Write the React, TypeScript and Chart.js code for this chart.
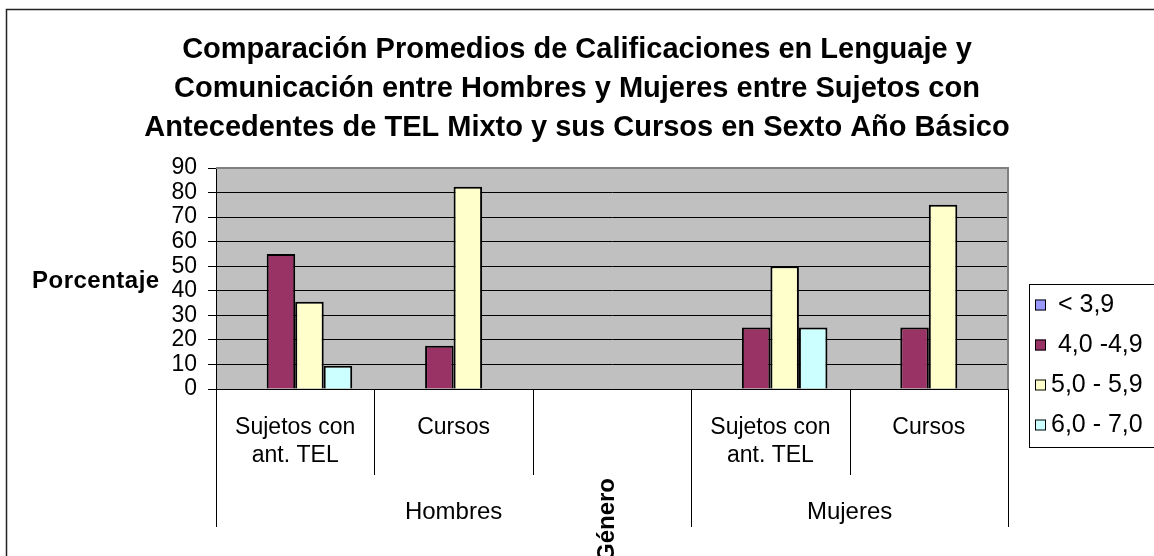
import { useEffect, useRef } from 'react';
import { Chart, registerables } from 'chart.js';

Chart.register(...registerables);

const FONT = "'Liberation Sans', Arial, sans-serif";

const titleLines = [
  'Comparación Promedios de Calificaciones en Lenguaje y',
  'Comunicación entre Hombres y Mujeres entre Sujetos con',
  'Antecedentes de TEL Mixto y sus Cursos en Sexto Año Básico',
];
const yTitle = 'Porcentaje';
const xTitle = 'Género';
const categories = [['Sujetos con', 'ant. TEL'], ['Cursos'], [''], ['Sujetos con', 'ant. TEL'], ['Cursos']];
const groupLabels = ['Hombres', 'Mujeres'];
const groupStarts = [0, 3];
const groupEnds = [2, 4];
const seriesNames = [' < 3,9', ' 4,0 -4,9', '5,0 - 5,9', '6,0 - 7,0'];
const seriesColors = ['#9999FF', '#993366', '#FFFFCC', '#CCFFFF'];
const below39 = [0, 0, null, 0, 0];
const from40 = [55, 17.6, null, 25, 25];
const from50 = [35.5, 82.4, null, 50, 75];
const from60 = [9.5, 0, null, 25, 0];
const yTicks = [0, 10, 20, 30, 40, 50, 60, 70, 80, 90];

const decor = {
  id: 'decor',
  beforeDraw(chart: any) {
    const { ctx, chartArea: a } = chart;
    ctx.save();
    ctx.fillStyle = '#fff';
    ctx.fillRect(0, 0, chart.width, chart.height);
    ctx.fillStyle = '#C0C0C0';
    ctx.fillRect(a.left, a.top, a.right - a.left, a.bottom - a.top);
    ctx.restore();
  },
  beforeDatasetsDraw(chart: any) {
    const { ctx, chartArea: a } = chart;
    ctx.save();
    ctx.strokeStyle = '#808080';
    ctx.lineWidth = 2;
    ctx.beginPath();
    ctx.moveTo(a.left, a.top);
    ctx.lineTo(a.right, a.top);
    ctx.lineTo(a.right, a.bottom);
    ctx.stroke();
    ctx.restore();
  },
  afterDraw(chart: any) {
    const { ctx, chartArea: a } = chart;
    const xs = chart.scales.x;
    ctx.save();
    // outer frame
    ctx.strokeStyle = '#222';
    ctx.lineWidth = 1.5;
    ctx.beginPath();
    ctx.moveTo(6.5, chart.height + 2);
    ctx.lineTo(6.5, 9.5);
    ctx.lineTo(chart.width + 2, 9.5);
    ctx.stroke();

    // title
    ctx.fillStyle = '#000';
    ctx.textAlign = 'center';
    ctx.textBaseline = 'middle';
    ctx.font = `bold 29px ${FONT}`;
    titleLines.forEach((t, i) => ctx.fillText(t, 577, 50 + i * 39));

    // y title
    ctx.textAlign = 'left';
    ctx.textBaseline = 'alphabetic';
    ctx.font = `bold 24px ${FONT}`;
    (ctx as any).letterSpacing = '0.5px';
    ctx.fillText(yTitle, 32, 288);
    (ctx as any).letterSpacing = '0px';

    // category dividers
    const half = (xs.getPixelForValue(1) - xs.getPixelForValue(0)) / 2;
    const edge = (i: number) => xs.getPixelForValue(i) - half;
    ctx.strokeStyle = '#000';
    ctx.lineWidth = 1;
    for (let i = 0; i <= categories.length; i++) {
      const isGroup = groupStarts.includes(i) || i === categories.length;
      const x = Math.round(edge(i)) + 0.5;
      ctx.beginPath();
      ctx.moveTo(x, a.bottom);
      ctx.lineTo(x, isGroup ? 527 : 475);
      ctx.stroke();
    }
    // group labels
    ctx.font = `24px ${FONT}`;
    ctx.textAlign = 'center';
    ctx.textBaseline = 'middle';
    groupLabels.forEach((g, k) => {
      const cx = (edge(groupStarts[k]) + edge(groupEnds[k] + 1)) / 2;
      ctx.fillText(g, cx, 512);
    });
    // rotated axis title
    ctx.save();
    ctx.translate(614, 520);
    ctx.rotate(-Math.PI / 2);
    ctx.font = `bold 24px ${FONT}`;
    ctx.textAlign = 'center';
    ctx.textBaseline = 'alphabetic';
    ctx.fillText(xTitle, 0, 0);
    ctx.restore();

    // legend
    ctx.strokeStyle = '#000';
    ctx.lineWidth = 1;
    ctx.strokeRect(1029.5, 284.5, 140, 163);
    ctx.font = `25px ${FONT}`;
    ctx.textAlign = 'left';
    ctx.textBaseline = 'middle';
    seriesNames.forEach((n, i) => {
      const cy = 305 + i * 40;
      ctx.fillStyle = seriesColors[i];
      ctx.fillRect(1035, cy - 5.5, 11, 11);
      ctx.strokeRect(1035.5, cy - 5, 10, 10);
      ctx.fillStyle = '#000';
      ctx.fillText(n, 1051, cy);
    });
    ctx.restore();
  },
};

export default function App() {
  const ref = useRef<HTMLCanvasElement>(null);
  useEffect(() => {
    const data = [below39, from40, from50, from60];
    const chart = new Chart(ref.current!, {
      type: 'bar',
      data: {
        labels: categories,
        datasets: seriesNames.map((n, i) => ({
          label: n,
          data: data[i],
          backgroundColor: seriesColors[i],
          borderColor: '#000',
          borderWidth: 2,
          barPercentage: 1,
          categoryPercentage: 0.72,
        })),
      },
      options: {
        responsive: false,
        devicePixelRatio: 1,
        animation: false,
        layout: { padding: { left: 0, top: 168, right: 146, bottom: 0 } },
        plugins: {
          legend: { display: false },
          title: { display: false },
          tooltip: { enabled: false },
        },
        scales: {
          x: {
            grid: { display: false, drawTicks: false },
            border: { display: true, color: '#000', width: 1 },
            ticks: {
              autoSkip: false,
              maxRotation: 0,
              minRotation: 0,
              color: '#000',
              padding: 25,
              font: { family: FONT, size: 23, lineHeight: 1.22 },
            },
            afterFit: (s: any) => { s.height = 167; },
          },
          y: {
            min: 0,
            max: 90,
            afterBuildTicks: (s: any) => { s.ticks = yTicks.map((v) => ({ value: v })); },
            grid: { color: '#000', lineWidth: 1, drawTicks: true, tickLength: 8, tickColor: '#000' },
            border: { display: true, color: '#000', width: 1 },
            ticks: {
              autoSkip: false,
              stepSize: 10,
              color: '#000',
              padding: 11,
              font: { family: FONT, size: 23 },
            },
            afterFit: (s: any) => { s.width = 216; },
          },
        },
      },
      plugins: [decor],
    });
    return () => chart.destroy();
  }, []);
  return (
    <div style={{ position: 'fixed', left: 0, top: 0, width: 1154, height: 556, background: '#fff' }}>
      <canvas ref={ref} width={1154} height={556} style={{ display: 'block', width: 1154, height: 556 }} />
    </div>
  );
}
